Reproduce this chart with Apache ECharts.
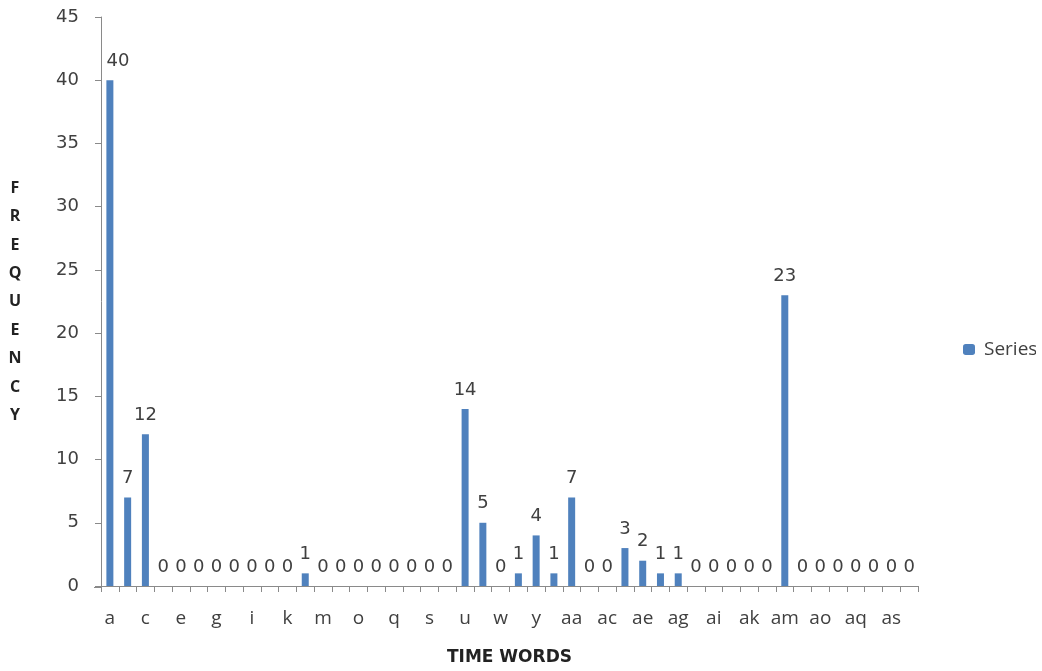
<!DOCTYPE html>
<html>
<head>
<meta charset="utf-8">
<script src="https://cdn.jsdelivr.net/npm/echarts@6/dist/echarts.min.js"></script>
<style>
  html, body { margin: 0; padding: 0; background: #fff; overflow: hidden; }
  #chart { width: 1042px; height: 671px; }
</style>
</head>
<body>
<div id="chart"></div>
<script>
// Time-word categories (a … at)
const categories = [
  'a','b','c','d','e','f','g','h','i','j','k','l','m','n','o','p','q','r','s','t','u','v','w','x','y','z',
  'aa','ab','ac','ad','ae','af','ag','ah','ai','aj','ak','al','am','an','ao','ap','aq','ar','as','at'
];
// Frequency of each time word
const frequency = [
  40, 7, 12, 0, 0, 0, 0, 0, 0, 0, 0, 1, 0, 0, 0, 0, 0, 0, 0, 0, 14, 5, 0, 1, 4, 1,
  7, 0, 0, 3, 2, 1, 1, 0, 0, 0, 0, 0, 23, 0, 0, 0, 0, 0, 0, 0
];
const yTicks = { min: 0, max: 45, interval: 5 };
const seriesName = 'Series1';

const chart = echarts.init(document.getElementById('chart'), null, { renderer: 'canvas' });
const axisGray = '#8a8a8a';
const textColor = '#404040';

// first bar's label is nudged right so it clears the value axis
const barData = frequency.map((v, i) =>
  i === 0 ? { value: v, label: { offset: [8, 0] } } : v
);

chart.setOption({
  animation: false,
  backgroundColor: '#ffffff',
  grid: { left: 101, right: 124, top: 17, bottom: 84, containLabel: false },
  legend: {
    data: [seriesName],
    left: 958,
    top: 335,
    itemWidth: 12,
    itemHeight: 11,
    itemGap: 8,
    textStyle: { fontFamily: 'Open Sans', fontSize: 19, color: textColor, padding: [0, 0, 0, 4] }
  },
  xAxis: {
    type: 'category',
    data: categories,
    name: 'TIME WORDS',
    nameLocation: 'middle',
    nameGap: 63,
    nameTextStyle: { fontFamily: 'DejaVu Sans', fontWeight: 'bold', fontSize: 17, color: '#222' },
    axisLine: { lineStyle: { color: axisGray, width: 1 } },
    axisTick: { show: true, alignWithLabel: false, interval: 0, length: 6, lineStyle: { color: axisGray } },
    axisLabel: {
      interval: 1,
      margin: 23,
      fontFamily: 'Open Sans',
      fontSize: 19,
      color: textColor
    },
    splitLine: { show: false }
  },
  yAxis: {
    type: 'value',
    min: yTicks.min,
    max: yTicks.max,
    interval: yTicks.interval,
    axisLine: { show: true, lineStyle: { color: axisGray, width: 1 } },
    axisTick: { show: true, length: 6, lineStyle: { color: axisGray } },
    axisLabel: { margin: 22, fontFamily: 'DejaVu Sans', fontSize: 18, color: textColor },
    splitLine: { show: false }
  },
  graphic: [
    {
      // vertical stacked y-axis title
      type: 'text',
      x: 15,
      y: 174,
      style: {
        text: 'F\nR\nE\nQ\nU\nE\nN\nC\nY',
        fontFamily: 'Open Sans',
        fontWeight: 'bold',
        fontSize: 16,
        lineHeight: 28.4,
        align: 'center',
        verticalAlign: 'top',
        fill: '#222'
      }
    },
    {
      // x-axis line extends slightly left of the value axis
      type: 'line',
      shape: { x1: 94, y1: 587.5, x2: 101, y2: 587.5 },
      style: { stroke: axisGray, lineWidth: 1 }
    },
    {
      // right margin clips the legend text
      type: 'rect',
      z: 100,
      shape: { x: 1036, y: 320, width: 6, height: 50 },
      style: { fill: '#ffffff' }
    }
  ],
  series: [{
    name: seriesName,
    type: 'bar',
    data: barData,
    barWidth: 7,
    itemStyle: { color: '#4F81BD' },
    label: {
      show: true,
      position: 'top',
      distance: 10,
      fontFamily: 'DejaVu Sans',
      fontSize: 18,
      color: textColor
    }
  }]
});
</script>
</body>
</html>
